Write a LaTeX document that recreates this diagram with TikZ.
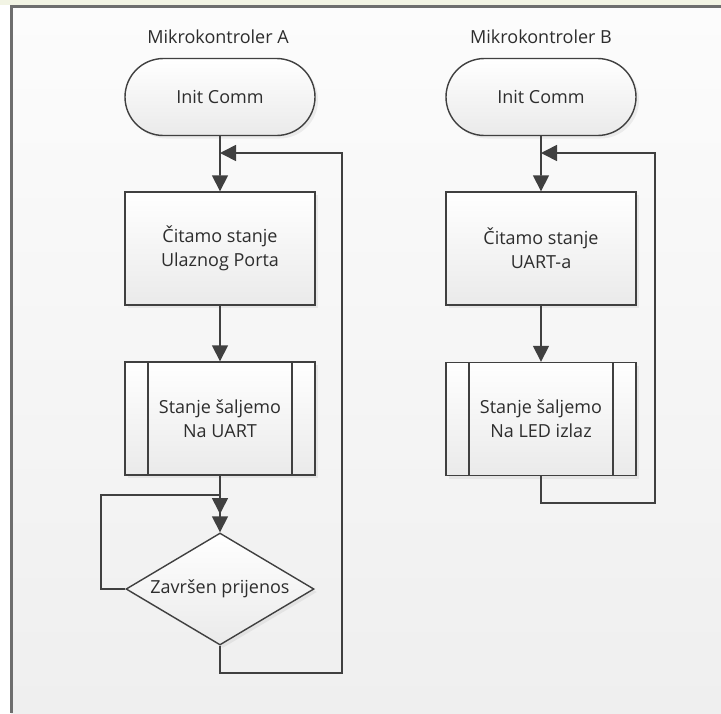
\documentclass[tikz,border=0pt]{standalone}
\usepackage{fontspec}
\setmainfont{Open Sans}
\usetikzlibrary{arrows.meta,shapes.misc,shapes.geometric,shadows}
\definecolor{linegray}{RGB}{64,64,64}
\definecolor{textgray}{RGB}{45,45,45}
\definecolor{framegray}{RGB}{110,110,110}
\definecolor{bandbeige}{RGB}{242,244,228}
\definecolor{boxbottom}{RGB}{234,234,234}
\begin{document}
\begin{tikzpicture}
        [x=1pt,y=-1pt,
         font=\fontsize{18}{24}\selectfont,text=textgray,
         flow/.style={draw=linegray,line width=1.6pt,-{Triangle[length=16pt,width=16pt]}},
         blockbox/.style={draw=linegray,line width=1.4pt,top color=white,bottom color=boxbottom,
           drop shadow={opacity=0.12,shadow xshift=3pt,shadow yshift=-3pt},
           align=center,inner sep=0pt},
         terminal/.style={blockbox,rounded rectangle,minimum width=190pt,minimum height=77pt},
         process/.style={blockbox,rectangle,minimum width=190pt,minimum height=113pt},
         subproc/.style={process,path picture={
           \draw[linegray,line width=1.4pt] ([xshift=23pt]path picture bounding box.north west) -- ([xshift=23pt]path picture bounding box.south west);
           \draw[linegray,line width=1.4pt] ([xshift=-23pt]path picture bounding box.north east) -- ([xshift=-23pt]path picture bounding box.south east);}},
         decision/.style={blockbox,diamond,shape aspect=1.7,minimum width=188pt,minimum height=112pt}]
        \useasboundingbox (0,0) rectangle (721,713);

        \fill[white] (0,0) rectangle (721,713);
        \fill[bandbeige] (0,0) rectangle (721,5);
        \shade[top color={rgb,255:red,252;green,252;blue,252},bottom color={rgb,255:red,239;green,239;blue,239}] (11,7) rectangle (721,713);
        \draw[framegray,line width=2.5pt] (11.5,713) -- (11.5,6.5) -- (721,6.5);

        \node (titleA) at (218,37) {Mikrokontroler A};
        \node (titleB) at (541,37) {Mikrokontroler B};

        \node[terminal] (initA) at (220,97) {Init Comm};
        \node[process] (readA) at (220,248.5) {Čitamo stanje\\Ulaznog Porta};
        \node[subproc] (sendA) at (220,418.5) {Stanje šaljemo\\Na UART};
        \node[decision] (doneA) at (220,589) {Završen prijenos};

        \node[terminal] (initB) at (541,97) {Init Comm};
        \node[process] (readB) at (541,248.5) {Čitamo stanje\\UART-a};
        \node[subproc] (sendB) at (541,419) {Stanje šaljemo\\Na LED izlaz};

        \coordinate (entryA) at (220,153);
        \coordinate (cornerA) at (342,673);
        \coordinate (waitA) at (101,495);
        \coordinate (mergeA) at (220,495);
        \coordinate (tipA) at (220,514);
        \coordinate (entryB) at (541,153);
        \coordinate (cornerB) at (655,503);

        \draw[flow] (initA) -- (readA);
        \draw[flow] (readA) -- (sendA);
        \draw[flow] (sendA) -- (doneA);
        \draw[flow] (doneA.west) -| (waitA) -- (mergeA) -- (tipA);
        \draw[flow] (doneA.south) |- (cornerA) |- (entryA);

        \draw[flow] (initB) -- (readB);
        \draw[flow] (readB) -- (sendB);
        \draw[flow] (sendB.south) |- (cornerB) |- (entryB);
      \end{tikzpicture}
\end{document}
